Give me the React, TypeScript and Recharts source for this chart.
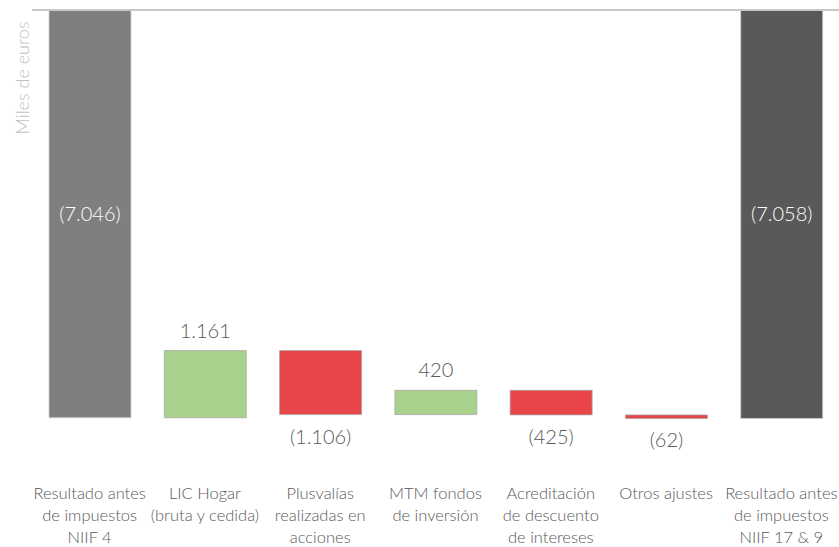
import { BarChart, Bar, XAxis, YAxis, ReferenceLine, LabelList, Cell } from "recharts"

const categories = [
  "Resultado antes\nde impuestos\nNIIF 4",
  "LIC Hogar\n(bruta y cedida)",
  "Plusvalías\nrealizadas en\nacciones",
  "MTM fondos\nde inversión",
  "Acreditación\nde descuento\nde intereses",
  "Otros ajustes",
  "Resultado antes\nde impuestos\nNIIF 17 & 9",
]
const values = [-7046, 1161, -1106, 420, -425, -62, -7058]
const isTotal = [true, false, false, false, false, false, true]

const FONT = "Lato, 'DejaVu Sans', sans-serif"
const TEXT = "#595959"

let running = 0
const data = categories.map((name, i) => {
  const v = values[i]
  if (isTotal[i]) {
    running = v
    return { name, value: v, total: true, range: [v, 0] }
  }
  const start = running
  running = start + v
  return { name, value: v, total: false, range: [Math.min(start, running), Math.max(start, running)] }
})

function barColor(i: number) {
  if (isTotal[i]) return i === 0 ? "#7f7f7f" : "#595959"
  return values[i] >= 0 ? "#a9d18e" : "#e84549"
}

function fmt(v: number) {
  const s = Math.abs(v).toString().replace(/\B(?=(\d{3})+(?!\d))/g, ".")
  return v < 0 ? `(${s})` : s
}

const CategoryTick = (props: any) => {
  const { x, y, payload } = props
  const lines = String(payload.value).split("\n")
  return (
    <text x={x} y={y} textAnchor="middle" fill={TEXT} fontSize={16.5} fontFamily={FONT} fontWeight={300}>
      {lines.map((l, k) => (
        <tspan key={k} x={x} dy={k === 0 ? 18 : 22}>
          {l}
        </tspan>
      ))}
    </text>
  )
}

const ValueLabel = (props: any) => {
  const { x, y, width, height, index } = props
  const top = Math.min(y, y + height)
  const bottom = Math.max(y, y + height)
  const cx = x + width / 2
  const v = values[index]
  if (isTotal[index]) {
    return (
      <text x={cx} y={(top + bottom) / 2 + 7} textAnchor="middle" fill="#ffffff" fontSize={20} fontFamily={FONT} fontWeight={300}>
        {fmt(v)}
      </text>
    )
  }
  const ly = v >= 0 ? top - 13 : bottom + 29
  return (
    <text x={cx} y={ly} textAnchor="middle" fill={TEXT} fontSize={20} fontFamily={FONT} fontWeight={300}>
      {fmt(v)}
    </text>
  )
}

const AxisTitle = () => (
  <text
    x={22}
    y={78}
    transform="rotate(-90, 22, 78)"
    textAnchor="middle"
    dominantBaseline="central"
    fill="#bfbfbf"
    fontSize={18}
    fontFamily={FONT}
    fontWeight={300}
  >
    Miles de euros
  </text>
)

export default function App() {
  return (
    <div style={{ position: "absolute", left: 0, top: 0, background: "#fff" }}>
      <BarChart width={839} height={547} data={data} margin={{ top: 10, right: 0, left: 0, bottom: 0 }}>
        <XAxis
          dataKey="name"
          interval={0}
          height={74}
          axisLine={false}
          tickLine={false}
          tick={<CategoryTick />}
        />
        <YAxis
          width={32}
          domain={[-8000, 0]}
          axisLine={false}
          tickLine={false}
          tick={false}
          label={<AxisTitle />}
        />
        <Bar dataKey="range" barSize={82} isAnimationActive={false} stroke="#b0b0b0" strokeWidth={0.75}>
          {data.map((_, i) => (
            <Cell key={i} fill={barColor(i)} stroke={isTotal[i] ? "#d0d0d0" : "#a5a5a5"} />
          ))}
          <LabelList dataKey="value" content={<ValueLabel />} />
        </Bar>
        <ReferenceLine y={0} stroke="#c8c8c8" strokeWidth={2} />
      </BarChart>
    </div>
  )
}
